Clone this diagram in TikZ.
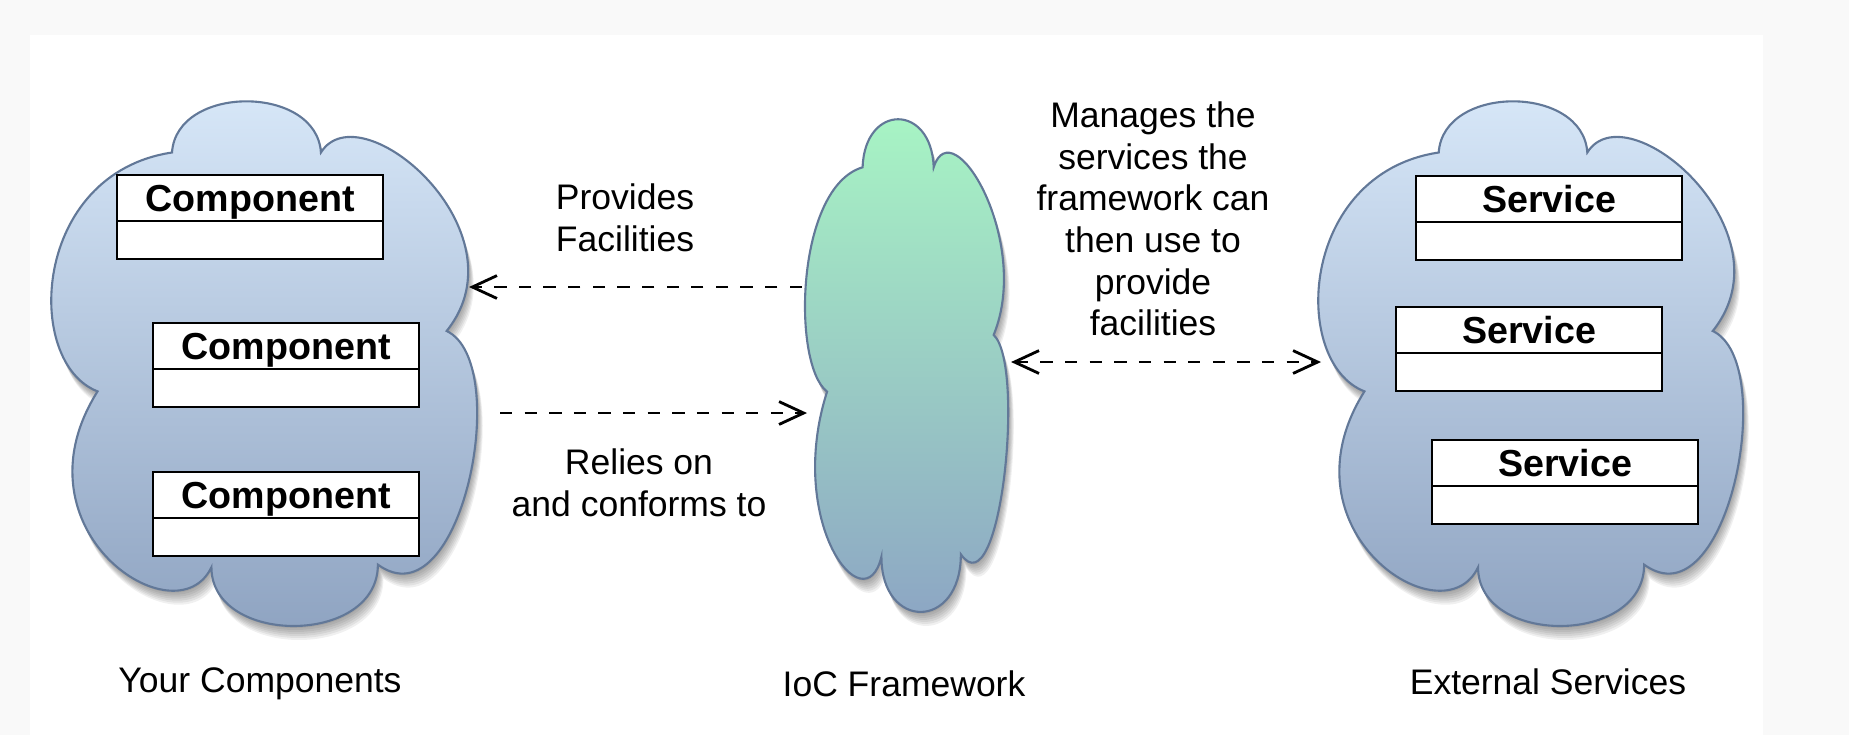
\documentclass[tikz,border=0pt]{standalone}
\usepackage{fontspec}
\setmainfont{Liberation Sans}
\usetikzlibrary{arrows.meta,calc}
\definecolor{bgout}{RGB}{249,249,249}
\definecolor{bluetop}{RGB}{216,232,249}
\definecolor{bluebot}{RGB}{141,162,192}
\definecolor{greentop}{RGB}{168,246,196}
\definecolor{greenbot}{RGB}{140,164,196}
\definecolor{cloudedge}{RGB}{98,120,152}
\newcommand\lblfont{\fontsize{10.1}{11.84}\selectfont}
\newcommand\boxfont{\fontsize{10.7}{12}\selectfont\bfseries}
\newcommand\cloudpath[1]{\path[#1] (0.12,0.555) .. controls (-0.05,0.50) and (-0.03,0.14) .. (0.29,0.10)
  .. controls (0.30,-0.03) and (0.62,-0.03) .. (0.63,0.10)
  .. controls (0.72,-0.02) and (1.10,0.25) .. (0.917,0.44)
  .. controls (1.07,0.50) and (0.95,1.0) .. (0.76,0.885)
  .. controls (0.76,1.04) and (0.38,1.04) .. (0.38,0.89)
  .. controls (0.30,1.03) and (-0.08,0.82) .. (0.12,0.555) -- cycle;}
\newcommand\cloudat[6]{%
  \foreach \s in {2,4,...,14} {
    \begin{scope}[shift={({#1+\s*0.4},{#2+\s})}, xscale=#3, yscale=#4]
      \cloudpath{fill=black, opacity=0.06}
    \end{scope}}
  \begin{scope}[shift={(#1,#2)}, xscale=#3, yscale=#4]
    \cloudpath{draw=cloudedge, line width=0.6pt, top color=#5, bottom color=#6}
  \end{scope}}
\newcommand\umlbox[4]{%
  \node[umlsty, anchor=north west] (#1) at (#2,#3) {};
  \draw[line width=0.7pt] ($(#1.north west)+(0,46)$) -- ($(#1.north east)+(0,46)$);
  \node[boxtext, anchor=base] (#1t) at ($(#1.north)+(0,36)$) {#4};}
\tikzset{
  umlsty/.style={draw, fill=white, line width=0.7pt, minimum width=2.66cm, minimum height=0.84cm, inner sep=0pt, outer sep=0pt},
  boxtext/.style={font=\boxfont, inner sep=0pt},
  lbl/.style={font=\lblfont, align=center, inner sep=0pt},
  cloudbox/.style={inner sep=0pt, outer sep=0pt, draw=none},
  flow/.style={line width=0.8pt, dash pattern=on 3.5pt off 3.5pt, -{Straight Barb[length=7pt,width=6.5pt]}},
  flow2/.style={line width=0.8pt, dash pattern=on 3.5pt off 3.5pt, {Straight Barb[length=7pt,width=6.5pt]}-{Straight Barb[length=7pt,width=6.5pt]}}
}
\begin{document}
\begin{tikzpicture}[x=0.01cm, y=-0.01cm]
\useasboundingbox (0,0) rectangle (1849,735);
\fill[bgout] (0,0) rectangle (1849,735);
\fill[white] (30,35) rectangle (1763,735);

% clouds
\cloudat{45}{100}{438}{525}{bluetop}{bluebot}
\cloudat{802}{118}{209}{493}{greentop}{greenbot}
\cloudat{1312}{100}{437}{525}{bluetop}{bluebot}
\node[cloudbox, minimum width=4.38cm, minimum height=5.25cm] (lcloud) at (264,362.5) {};
\node[cloudbox, minimum width=2.09cm, minimum height=4.93cm] (mcloud) at (906.5,364.5) {};
\node[cloudbox, minimum width=4.37cm, minimum height=5.25cm] (rcloud) at (1530.5,362.5) {};

% component boxes
\umlbox{c1}{117}{175}{Component}
\umlbox{c2}{153}{323}{Component}
\umlbox{c3}{153}{472}{Component}
% service boxes
\umlbox{s1}{1416}{176}{Service}
\umlbox{s2}{1396}{307}{Service}
\umlbox{s3}{1432}{440}{Service}

% connectors
\coordinate (pfTip) at (469,287);
\coordinate (roTail) at (500,413);
\coordinate (roTip) at (807,413);
\coordinate (msTip) at (1321,362);
\draw[flow] (mcloud.west |- pfTip) -- (pfTip);
\draw[flow] (roTail) -- (roTip);
\draw[flow2] (mcloud.east |- msTip) -- (msTip);

% labels
\node[lbl] (provides) at (625,218) {Provides\\Facilities};
\node[lbl] (relies) at (639,483) {Relies on\\and conforms to};
\node[lbl] (manages) at (1153,219) {Manages the\\services the\\framework can\\then use to\\provide\\facilities};
\node[lbl] (yourc) at (260,684) {Your Components};
\node[lbl] (ioc) at (904,684) {IoC Framework};
\node[lbl] (exts) at (1548,682) {External Services};
\end{tikzpicture}
\end{document}
